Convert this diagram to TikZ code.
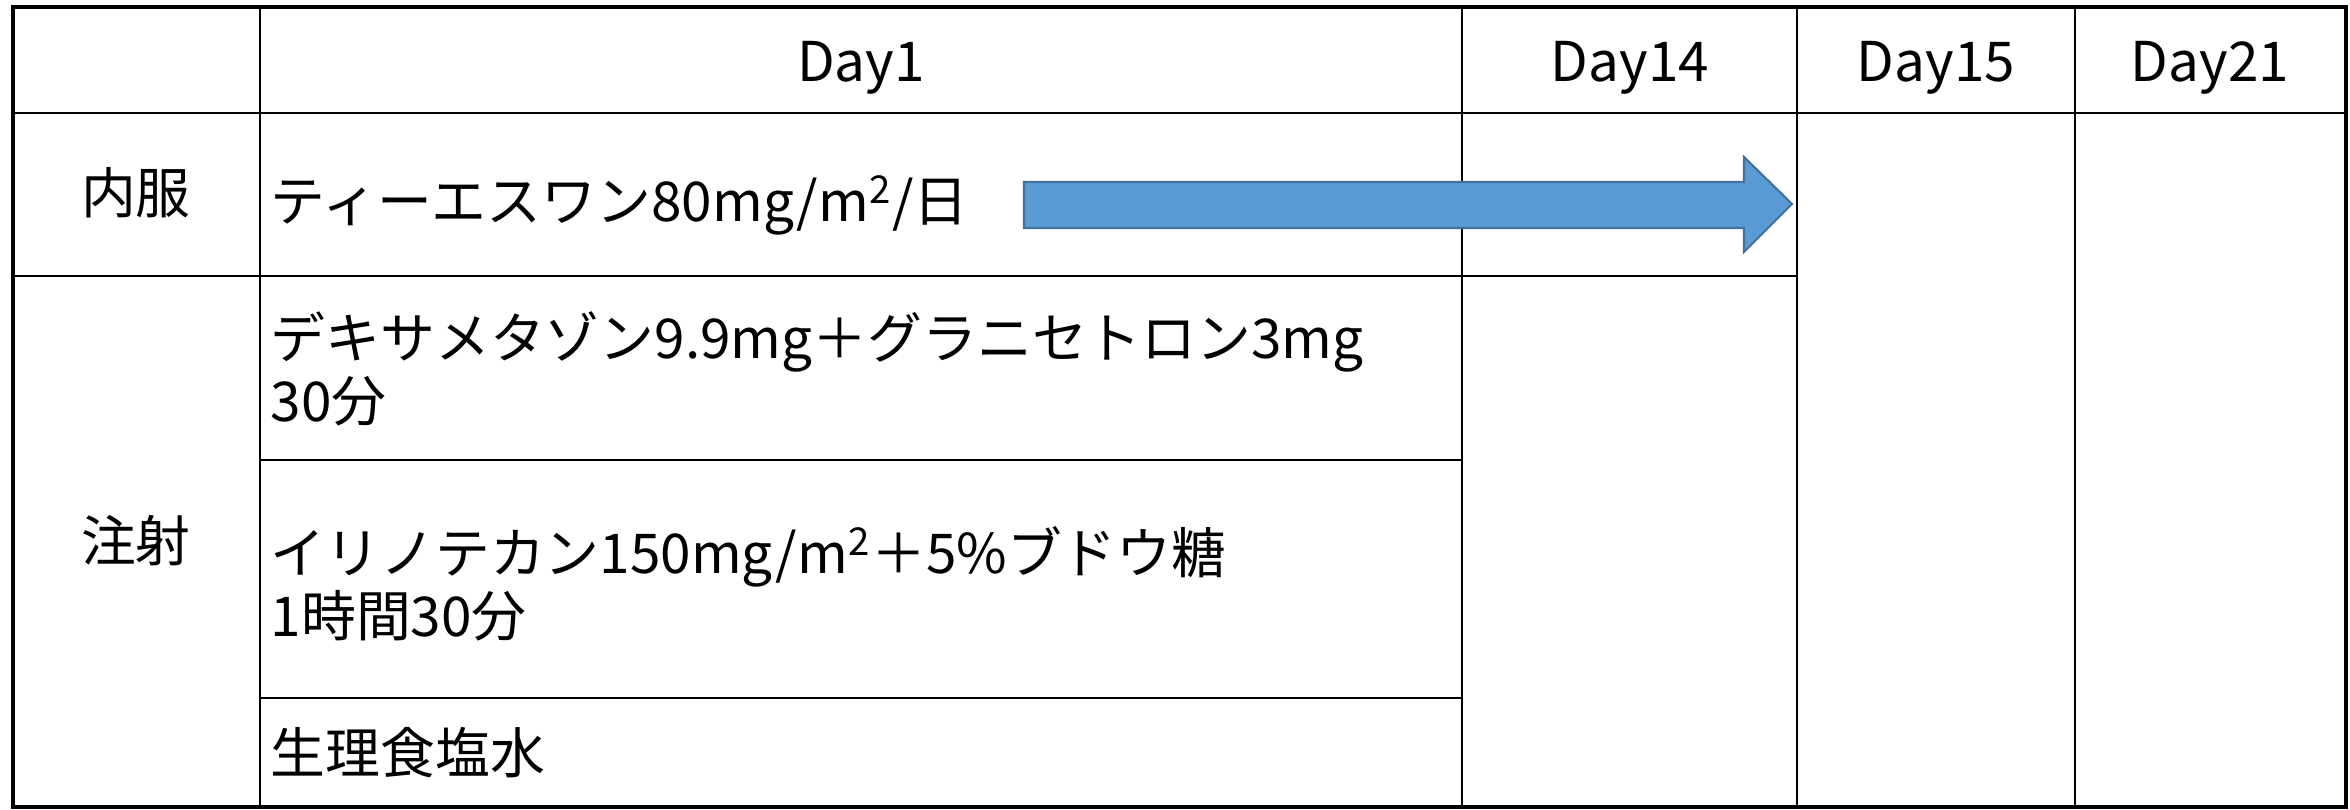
\documentclass[tikz,border=0pt]{standalone}
\usepackage{fontspec}
\setmainfont{Noto Sans CJK JP}
\usepackage{tikz}
\usepackage{xcolor}
\definecolor{pfeilblau}{HTML}{5B9BD5}
\definecolor{pfeilrand}{HTML}{41719C}

\begin{document}
\begin{tikzpicture}[x=0.01cm,y=-0.01cm,
  rahmen/.style={line width=1.2pt},
  linie/.style={line width=0.8pt},
  zelle/.style={inner sep=0pt, font={\fontsize{15.6}{15.9}\selectfont}},
  kopf/.style={zelle, anchor=base},
  eintrag/.style={zelle, anchor=base west},
  mehrzeilig/.style={zelle, anchor=west, align=left}]
\useasboundingbox (0,0) rectangle (2350,810);

%Gitterlinien innen
\draw[linie] (13,113) to (2346,113);
\draw[linie] (13,276) to (1797,276);
\draw[linie] (260,460) to (1462,460);
\draw[linie] (260,698) to (1462,698);
\draw[linie] (260,7) to (260,807);
\draw[linie] (1462,7) to (1462,807);
\draw[linie] (1797,7) to (1797,807);
\draw[linie] (2075,7) to (2075,807);

%Rahmen aussen
\draw[rahmen] (13,7) rectangle (2346,807);

%Kopfzeile
\node[kopf] (day1) at (861,82) {Day1};
\node[kopf] (day14) at (1630,82) {Day14};
\node[kopf] (day15) at (1936,82) {Day15};
\node[kopf] (day21) at (2210,82) {Day21};

%linke Spalte
\node[kopf] (oral) at (136,214) {内服};
\node[kopf] (inj) at (136,562) {注射};

%Medikamente
\node[eintrag] (ts1) at (270,222) {ティーエスワン80mg/m\textsuperscript{2}/日};
\node[mehrzeilig] (dex) at (270,369) {デキサメタゾン9.9mg＋グラニセトロン3mg\\30分};
\node[mehrzeilig] (iri) at (270,584) {イリノテカン150mg/m\textsuperscript{2}＋5\%ブドウ糖\\1時間30分};
\node[eintrag] (nacl) at (270,774) {生理食塩水};

%Pfeil Day1 bis Day14
\filldraw[fill=pfeilblau, draw=pfeilrand, line width=0.6pt]
  (1024,182) -- (1744,182) -- (1744,157) -- (1792,204) -- (1744,252) -- (1744,228) -- (1024,228) -- cycle;

\end{tikzpicture}
\end{document}
